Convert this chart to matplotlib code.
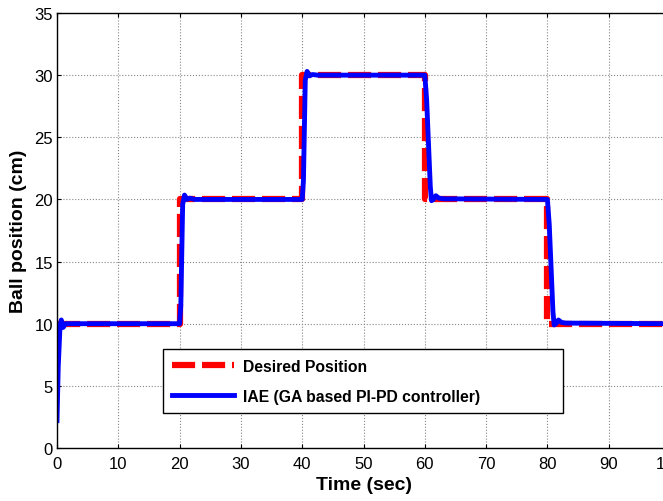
import matplotlib.pyplot as plt

plt.rcParams['font.family'] = ['Liberation Sans', 'DejaVu Sans']

# setpoint (desired ball position)
desired_t = [0, 20, 20, 40, 40, 60, 60, 80, 80, 100]
desired_y = [10, 10, 20, 20, 30, 30, 20, 20, 10, 10]

# IAE response (GA based PI-PD controller)
iae_t = [0, 0.2, 0.5, 0.7, 1.0, 1.4, 2.2,
         20.0, 20.2, 20.5, 20.8, 21.2, 21.7, 22.5,
         40.0, 40.2, 40.5, 40.8, 41.2, 41.7, 42.5,
         60.0, 60.3, 60.6, 60.9, 61.1, 61.4, 61.8, 62.3, 63.0,
         80.0, 80.3, 80.6, 80.9, 81.1, 81.4, 81.8, 82.3, 83.0,
         100]
iae_y = [2.2, 6.5, 9.9, 10.3, 9.7, 10.0, 10.0,
         10.0, 11.5, 19.6, 20.35, 20.0, 20.1, 20.0,
         20.0, 21.5, 29.6, 30.3, 29.95, 30.05, 30.0,
         30.0, 28.0, 24.5, 21.0, 19.9, 20.0, 20.3, 20.1, 20.05,
         20.0, 18.0, 14.5, 11.0, 9.9, 10.0, 10.3, 10.1, 10.05,
         10.0]

fig = plt.figure(figsize=(6.63, 5.02), dpi=100)
ax = fig.add_axes([57 / 663, 53 / 502, 613 / 663, 435 / 502])

ax.plot(desired_t, desired_y, color='red', lw=4.5, dashes=(3.7, 1.1),
        label='Desired Position')
ax.plot(iae_t, iae_y, color='blue', lw=3.5,
        label='IAE (GA based PI-PD controller)')

ax.set_xlim(0, 100)
ax.set_ylim(0, 35)
ax.set_xticks(range(0, 101, 10))
ax.set_yticks(range(0, 36, 5))
ax.tick_params(direction='in', length=3, top=True, right=True, labelsize=12)
ax.tick_params(axis='x', pad=5.5)
ax.tick_params(axis='y', pad=3)
ax.grid(True, color='#888888', linestyle=':', linewidth=0.8)
for s in ax.spines.values():
    s.set_linewidth(1.0)

ax.set_xlabel('Time (sec)', fontsize=14, fontweight='bold', labelpad=4)
ax.set_ylabel('Ball position (cm)', fontsize=14, fontweight='bold', labelpad=5)

leg = ax.legend(loc='lower left', bbox_to_anchor=(0.173, 0.080, 0.6525, 0.154),
                mode='expand', borderaxespad=0,
                fancybox=False, edgecolor='black', framealpha=1,
                prop={'weight': 'bold', 'size': 11.3}, handlelength=3.9,
                handletextpad=0.57, borderpad=0.6, labelspacing=0.95)
leg.get_frame().set_linewidth(1.0)

fig.savefig('out.png', dpi=100)
